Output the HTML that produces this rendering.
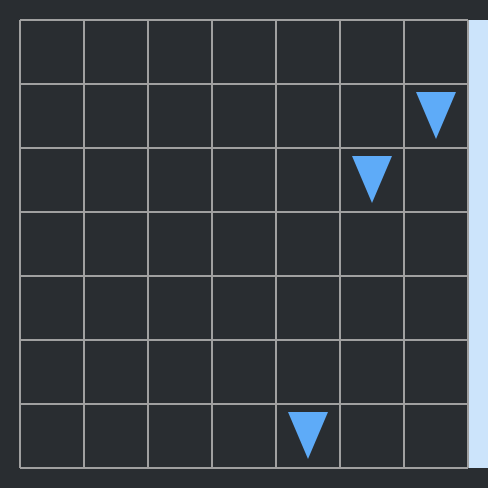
<!DOCTYPE html>
<html><head><style>
html,body{margin:0;padding:0;background:#292d31;}
svg{display:block;}
</style></head><body>
<svg width="488" height="488">
<rect x="0" y="0" width="488" height="488" fill="#292d31"/>
<rect x="468" y="20" width="20" height="448" fill="#cce4fb"/>
<g id="grid"></g>
<g id="marks"></g>
</svg>
<script>
const cols = [6, 5, 4];
const rows = [1, 2, 6];
const nCells = 7;
const x0 = 20, y0 = 20, cell = 64;
function xs(c){return x0 + c*cell;}
function ys(r){return y0 + r*cell;}
const ns='http://www.w3.org/2000/svg';
const g=document.getElementById('grid');
for(let i=0;i<=nCells;i++){
  const v=document.createElementNS(ns,'line');
  v.setAttribute('x1',xs(i));v.setAttribute('x2',xs(i));v.setAttribute('y1',y0);v.setAttribute('y2',ys(nCells));
  v.setAttribute('stroke','#a0a0a0');v.setAttribute('stroke-width','2');
  
  
  g.appendChild(v);
  const h=document.createElementNS(ns,'line');
  h.setAttribute('y1',ys(i));h.setAttribute('y2',ys(i));h.setAttribute('x1',x0);h.setAttribute('x2',xs(nCells));
  h.setAttribute('stroke','#a0a0a0');h.setAttribute('stroke-width','2');
  
  
  g.appendChild(h);
}
const m=document.getElementById('marks');
for(let k=0;k<cols.length;k++){
  const cx=xs(cols[k])+cell/2, top=ys(rows[k])+8;
  const p=document.createElementNS(ns,'polygon');
  p.setAttribute('points',`${cx-20},${top} ${cx+20},${top} ${cx},${top+47}`);
  p.setAttribute('fill','#5eabf8');
  
  
  m.appendChild(p);
}
</script>
</body></html>
